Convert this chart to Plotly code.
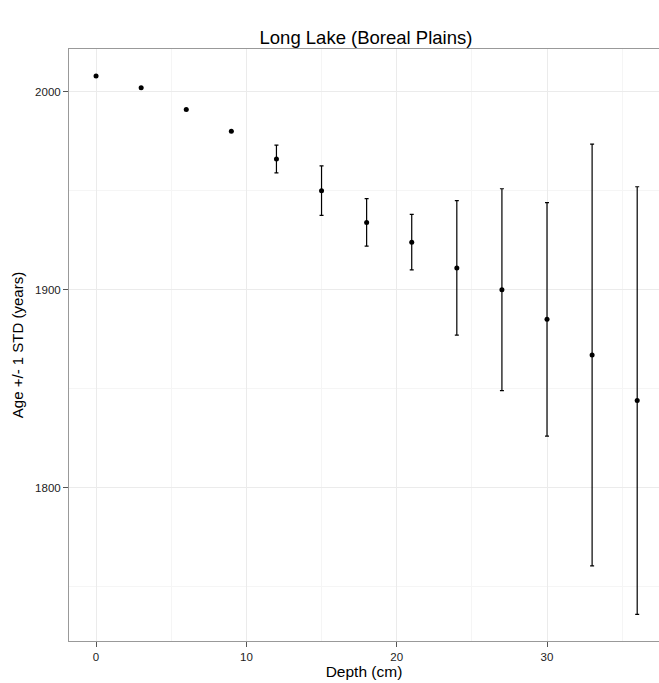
import plotly.graph_objects as go

depth = [0, 3, 6, 9, 12, 15, 18, 21, 24, 27, 30, 33, 36]
age = [2008, 2002, 1991, 1980, 1966, 1950, 1934, 1924, 1911, 1900, 1885, 1867, 1844]
age_sd = [0, 0, 0, 0, 7, 12.5, 12, 14, 34, 51, 59, 106.5, 108]

fig = go.Figure()
fig.add_trace(go.Scatter(
    x=depth, y=age, mode="markers",
    marker=dict(color="black", size=5),
    error_y=dict(type="data", array=age_sd, visible=True, color="black", thickness=1.2, width=2),
    showlegend=False,
))

axis_common = dict(
    showgrid=True, gridcolor="#ebebeb", gridwidth=1,
    showline=True, linecolor="#999999", linewidth=1, mirror=True,
    ticks="outside", ticklen=5, tickcolor="#555555",
    tickfont=dict(family="Liberation Sans, Arial", size=11.5, color="#222222"),
    zeroline=False,
)

fig.update_layout(
    width=659, height=683,
    margin=dict(l=69, r=0, t=49, b=42),
    plot_bgcolor="white", paper_bgcolor="white",
    title=dict(text="Long Lake (Boreal Plains)", x=(69 + 659) / 2 / 659 + 0.003, xanchor="center",
               y=1 - 38 / 683, yanchor="middle",
               font=dict(family="Liberation Sans, Arial", size=18.5, color="black")),
    xaxis=dict(range=[-1.8, 37.45], tickvals=[0, 10, 20, 30],
               minor=dict(tickvals=[5, 15, 25, 35], showgrid=True, gridcolor="#f5f5f5", ticks=""),
               title=dict(text="Depth (cm)", standoff=3,
                          font=dict(family="Liberation Sans, Arial", size=15.5, color="black")),
               **axis_common),
    yaxis=dict(range=[1722.5, 2021.6], tickvals=[1800, 1900, 2000],
               minor=dict(tickvals=[1750, 1850, 1950], showgrid=True, gridcolor="#f5f5f5", ticks=""),
               title=dict(text="Age +/- 1 STD (years)", standoff=7,
                          font=dict(family="Liberation Sans, Arial", size=15, color="black")),
               **axis_common),
)

fig.write_html("out.html")
